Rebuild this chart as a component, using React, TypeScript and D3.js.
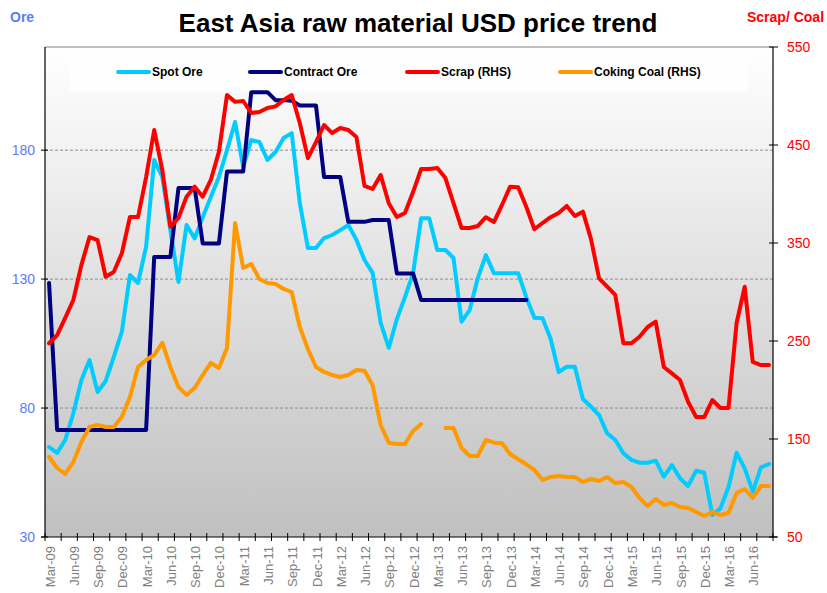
import React from "react";
import * as d3 from "d3";

const categories: string[] = [
  "Mar-09","Apr-09","May-09","Jun-09","Jul-09","Aug-09","Sep-09","Oct-09","Nov-09","Dec-09",
  "Jan-10","Feb-10","Mar-10","Apr-10","May-10","Jun-10","Jul-10","Aug-10","Sep-10","Oct-10","Nov-10","Dec-10",
  "Jan-11","Feb-11","Mar-11","Apr-11","May-11","Jun-11","Jul-11","Aug-11","Sep-11","Oct-11","Nov-11","Dec-11",
  "Jan-12","Feb-12","Mar-12","Apr-12","May-12","Jun-12","Jul-12","Aug-12","Sep-12","Oct-12","Nov-12","Dec-12",
  "Jan-13","Feb-13","Mar-13","Apr-13","May-13","Jun-13","Jul-13","Aug-13","Sep-13","Oct-13","Nov-13","Dec-13",
  "Jan-14","Feb-14","Mar-14","Apr-14","May-14","Jun-14","Jul-14","Aug-14","Sep-14","Oct-14","Nov-14","Dec-14",
  "Jan-15","Feb-15","Mar-15","Apr-15","May-15","Jun-15","Jul-15","Aug-15","Sep-15","Oct-15","Nov-15","Dec-15",
  "Jan-16","Feb-16","Mar-16","Apr-16","May-16","Jun-16","Jul-16","Aug-16"
];

const spotOre: (number | null)[] = [
  64.9,62.6,67.6,78,90.9,98.6,86.2,90.5,99.8,109.6,
  131.6,128.5,142.6,176.2,169.6,149,128.9,151,145.8,154,161.8,169.6,
  180,190.9,173.5,183.9,183.2,176.2,179.3,184.7,186.6,159.5,142.1,142.1,
  145.9,147.1,149,151,145.2,137.4,132.4,113,103.3,114.5,123,132.2,
  153.6,153.6,141.3,141.3,138.2,113.5,118,130.3,139.3,132.3,132.3,132.3,
  132.3,123,115,114.8,107,94,96,96,83.5,80.5,77.3,70.2,
  67.6,62.5,59.9,58.8,58.8,59.6,53.4,57.9,52.8,49.8,55.7,54.9,
  38.5,41.1,49.4,62.7,56.6,47.6,57,58.3
];

const contractOre: (number | null)[] = [
  128.5,71.5,71.5,71.5,71.5,71.5,71.5,71.5,71.5,71.5,
  71.5,71.5,71.5,138.6,138.6,138.6,165.3,165.3,165.3,143.8,143.8,143.8,
  171.7,171.7,171.7,202.5,202.5,202.5,199.4,199.4,199.2,197.3,197.3,197.3,
  169.6,169.6,169.6,152.2,152.2,152.2,152.9,152.9,152.9,132.2,132.2,132.2,
  121.9,121.9,121.9,121.9,121.9,121.9,121.9,121.9,121.9,121.9,121.9,121.9,
  121.9,121.9,null,null,null,null,null,null,null,null,null,null,
  null,null,null,null,null,null,null,null,null,null,null,null,
  null,null,null,null,null,null,null,null
];

const scrap: (number | null)[] = [
  247.7,256,273.5,291.8,327.6,356,353,315.6,320.4,339.5,
  376.5,376.5,417.3,465.3,424.5,366.6,375.5,397.3,407.5,397.3,414.3,443,
  501,494,494.9,482.7,483.7,487.8,489.4,495.9,501,472.4,436.7,453,
  470.4,462.2,467.3,465.3,458.2,408.2,405.1,419.4,390.6,376.5,380.6,402,
  425.5,425.5,426.5,416.3,390.6,365.3,365.3,367.3,376.3,371.4,388.8,407.5,
  407,387,364,370.4,376.3,380.6,387.8,377.6,382,354,314,305.4,
  297,247.7,247.7,254.4,264.3,269.7,223.5,217,210.2,188,172.4,172.4,
  189.8,181.6,181.6,268.4,305.4,228.6,225.5,225.5
];

const cokingCoal: (number | null)[] = [
  131.9,120.4,114.3,126.5,146.9,162.2,164.3,162.2,162.2,172.4,
  192.9,223.5,230.6,235.7,248,223.5,203,195,202,215.3,227.6,222.4,
  242.9,370.4,324.5,328.6,313.3,309.2,308.2,303.1,300,264.3,241.8,223.5,
  218.4,215.3,213.3,215.3,220.4,219.7,205.1,164.3,146.2,144.9,144.9,158.2,
  165.3,null,null,161.2,161.2,140.8,132.7,132.7,149,146.2,145.6,134.7,
  129.3,124.2,118.4,108.2,111.2,112.2,111.2,111.2,106.1,109.2,107.1,111.2,
  105.1,106.1,101,89.8,81.6,88.8,82.7,84.7,80.6,79.6,75.5,71.4,
  75.5,72.4,74.5,94.9,99,89.8,102,102
];

const leftTicks = [30, 80, 130, 180];
const rightTicks = [50, 150, 250, 350, 450, 550];

const W = 827, H = 593;
const PL = 45, PR = 773, PT = 47, PB = 537;

const seriesDefs = [
  { name: "Spot Ore", data: spotOre, color: "#00ccff", axis: "L", lx: 118 },
  { name: "Contract Ore", data: contractOre, color: "#000080", axis: "L", lx: 250 },
  { name: "Scrap (RHS)", data: scrap, color: "#ff0000", axis: "R", lx: 407 },
  { name: "Coking Coal (RHS)", data: cokingCoal, color: "#ff9900", axis: "R", lx: 560 },
];

export default function App() {
  const x = d3.scaleBand<string>().domain(categories).range([PL, PR]).padding(0);
  const bw = x.bandwidth();
  const yL = d3.scaleLinear().domain([30, 220]).range([PB, PT]);
  const yR = d3.scaleLinear().domain([50, 550]).range([PB, PT]);
  const cx = (c: string) => (x(c) as number) + bw / 2;

  const font = "Arial, 'Liberation Sans', sans-serif";

  const paths = seriesDefs.map((s) => {
    const y = s.axis === "L" ? yL : yR;
    const line = d3
      .line<number | null>()
      .defined((d) => d != null)
      .x((_, i) => cx(categories[i]))
      .y((d) => y(d as number));
    return { ...s, d: line(s.data) || "" };
  });

  const xTickIdx = d3.range(0, categories.length + 1, 2);
  const xLabelIdx = d3.range(0, categories.length, 3);

  return (
    <div style={{ position: "absolute", left: 0, top: 0 }}>
      <svg width={W} height={H} style={{ display: "block", background: "#fff" }}>
        <defs>
          <linearGradient id="bg" x1="0" y1="0" x2="0" y2="1">
            <stop offset="0" stopColor="#ffffff" />
            <stop offset="1" stopColor="#c0c0c0" />
          </linearGradient>
        </defs>
        <rect x={PL} y={PT} width={PR - PL} height={PB - PT} fill="url(#bg)" />
        <line x1={PL} x2={PR} y1={PT} y2={PT} stroke="#808080" strokeWidth={1} />

        {leftTicks.slice(1).map((t) => (
          <line key={t} x1={PL} x2={PR} y1={yL(t)} y2={yL(t)} stroke="#8c8c8c" strokeWidth={1} strokeDasharray="3,2" />
        ))}

        {/* legend */}
        <rect x={70} y={63} width={678} height={29} fill="#ffffff" opacity={0.7} />
        {paths.map((s) => (
          <g key={s.name}>
            <line x1={s.lx} x2={s.lx + 31} y1={72} y2={72} stroke={s.color} strokeWidth={4} strokeLinecap="round" />
            <text x={s.lx + 34} y={76} fontFamily={font} fontSize={12} fontWeight="bold" fill="#000">{s.name}</text>
          </g>
        ))}

        {paths.map((s) => (
          <path key={s.name} d={s.d} fill="none" stroke={s.color} strokeWidth={4} strokeLinejoin="round" strokeLinecap="round" />
        ))}

        {/* axes */}
        <line x1={PL} x2={PL} y1={PT} y2={PB} stroke="#000" strokeWidth={1.2} />
        <line x1={PR} x2={PR} y1={PT} y2={PB} stroke="#000" strokeWidth={1.2} />
        <line x1={PL - 4} x2={PR + 4} y1={PB} y2={PB} stroke="#000" strokeWidth={1.2} />

        {leftTicks.map((t) => (
          <g key={t}>
            <line x1={PL - 4} x2={PL + 3} y1={yL(t)} y2={yL(t)} stroke="#000" />
            <text x={PL - 10} y={yL(t) + 5} textAnchor="end" fontFamily={font} fontSize={14} fill="#5b7bff">{t}</text>
          </g>
        ))}
        {rightTicks.map((t) => (
          <g key={t}>
            <line x1={PR - 4} x2={PR + 5} y1={yR(t)} y2={yR(t)} stroke="#000" />
            <text x={PR + 14} y={yR(t) + 5} textAnchor="start" fontFamily={font} fontSize={14} fill="#ff0000">{t}</text>
          </g>
        ))}
        {xTickIdx.map((i) => {
          const xp = PL + i * bw;
          return <line key={i} x1={xp} x2={xp} y1={PB - 4} y2={PB + 4} stroke="#000" />;
        })}
        {xLabelIdx.map((i) => {
          const xp = cx(categories[i]) + 1;
          return (
            <text key={i} transform={`translate(${xp},${PB + 9}) rotate(-90)`} textAnchor="end" dy="0.35em"
              fontFamily={font} fontSize={13} fill="#808080">{categories[i]}</text>
          );
        })}

        <text x={418} y={32} textAnchor="middle" fontFamily={font} fontSize={26} fontWeight="bold" fill="#000">
          East Asia raw material USD price trend
        </text>
        <text x={10} y={22} fontFamily={font} fontSize={14} fontWeight="bold" fill="#5b7bff">Ore</text>
        <text x={747} y={22} fontFamily={font} fontSize={14} fontWeight="bold" fill="#ff0000">Scrap/ Coal</text>
      </svg>
    </div>
  );
}
